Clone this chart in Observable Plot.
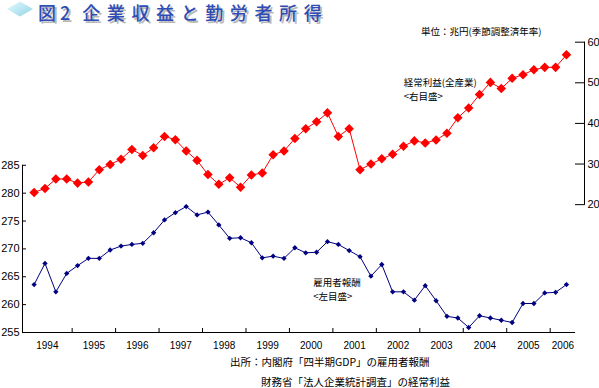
<!DOCTYPE html>
<html><head><meta charset="utf-8">
<script src="https://cdn.jsdelivr.net/npm/d3@7"></script>
<script src="https://cdn.jsdelivr.net/npm/@observablehq/plot@0.6"></script>
<style>
body{margin:0;background:#fff;}
#wrap{position:relative;width:599px;height:388px;overflow:hidden;font-family:"Noto Sans CJK JP",sans-serif;color:#000;}
#chart svg{display:block;}
#title{position:absolute;left:0;top:0;height:26px;width:440px;}
#title svg{position:absolute;left:0;top:0;}
#ttext{position:absolute;left:38px;top:1px;font-size:18px;line-height:22px;color:#2f4cb6;text-shadow:2px 2px 0 #b8b8b8;white-space:nowrap;font-weight:500;}
#ttext .a{letter-spacing:4px;}
#ttext .b{margin-left:8px;letter-spacing:6.6px;}
#unit{position:absolute;left:421px;top:25px;font-size:9.5px;line-height:13px;white-space:nowrap;}
#caption{position:absolute;left:230px;top:352px;font-size:10.5px;line-height:20px;white-space:nowrap;}
#caption .l2{padding-left:31px;}
</style></head><body>
<div id="wrap">
  <div id="chart"></div>
  <div id="title">
    <svg width="36" height="20"><defs><linearGradient id="g" x1="0" y1="0" x2="1" y2="1"><stop offset="0" stop-color="#e6fbff"/><stop offset="1" stop-color="#8fd3e6"/></linearGradient></defs><polygon points="7,9 20,1.5 33,9 20,16.5" fill="url(#g)"/></svg>
    <div id="ttext"><span class="a">図2</span><span class="b">企業収益と勤労者所得</span></div>
  </div>
  <div id="unit">単位：兆円(季節調整済年率)</div>
  <div id="caption">
    <div>出所：内閣府「四半期GDP」の雇用者報酬</div>
    <div class="l2">財務省「法人企業統計調査」の経常利益</div>
  </div>
</div>
<script>
const years = ["1994","1995","1996","1997","1998","1999","2000","2001","2002","2003","2004","2005","2006"];
// 雇用者報酬 (left axis, quarterly 1994Q1–2006Q2)
const compensation = [263.6,267.4,262.3,265.6,267.0,268.3,268.3,269.8,270.5,270.8,
  271.0,272.9,275.2,276.5,277.6,276.1,276.6,274.3,271.9,272.0,
  271.1,268.4,268.7,268.3,270.2,269.3,269.4,271.3,270.8,269.7,
  268.6,265.1,267.2,262.3,262.3,260.8,263.4,260.7,257.9,257.6,
  255.9,258.0,257.6,257.2,256.8,260.2,260.2,262.1,262.2,263.6];
// 経常利益(全産業) (right axis)
const profit = [23.0,24.0,26.3,26.3,25.3,25.6,28.6,29.9,31.2,33.6,
  32.1,34.0,36.8,36.0,33.2,30.9,27.4,25.0,26.6,24.3,
  27.3,27.8,32.3,33.2,36.3,38.7,40.4,42.6,36.8,38.7,
  28.6,30.0,31.3,32.4,34.4,35.7,35.2,35.9,37.6,41.4,
  43.8,47.1,50.1,48.6,51.1,52.0,53.2,53.8,53.8,56.9];
const leftTicks = [255,260,265,270,275,280,285];
const rightTicks = [20,30,40,50,60];
const labelProfit = "経常利益(全産業)\n<右目盛>";
const labelComp = "雇用者報酬\n<左目盛>";

// layout helpers
const xStart = -1.07, xEnd = 49.84, xFrameEnd = 50.66;
const toLeft = d3.scaleLinear([20, 60], [277.94, 307.09]);
const bounds = [xStart, ...d3.range(3.5, 48, 4), xEnd];
const labelPos = years.map((y, i) => (bounds[i] + bounds[i + 1]) / 2);
const yearAt = new Map(labelPos.map((p, i) => [p, years[i]]));
const tickBounds = d3.range(3.5, 48, 4);

const font = '"Liberation Sans", "Noto Sans CJK JP", sans-serif';
const jp = '"Noto Sans CJK JP", sans-serif';

const chart = Plot.plot({
  width: 599, height: 352,
  marginLeft: 22, marginRight: 15, marginTop: 30, marginBottom: 20,
  x: {domain: [xStart, xFrameEnd]},
  y: {domain: [255, 285], range: [332, 164.8]},
  style: {fontFamily: font, fontSize: "10px", background: "#fff", color: "#000", overflow: "visible"},
  marks: [
    // axis lines
    Plot.ruleY([255], {x1: xStart, x2: xEnd, stroke: "#000"}),
    Plot.ruleX([xStart], {y1: 255, y2: 285, stroke: "#000"}),
    Plot.ruleX([xFrameEnd], {y1: toLeft(20), y2: toLeft(60), stroke: "#000"}),
    // x axis
    Plot.axisX(tickBounds, {tickSize: -4, tickFormat: () => "", label: null}),
    Plot.axisX(labelPos, {tickSize: 0, tickPadding: 9, tickFormat: d => yearAt.get(d), fontSize: 10, label: null}),
    // left axis
    Plot.axisY(leftTicks, {anchor: "left", tickSize: -4, tickFormat: () => "", label: null}),
    Plot.axisY(leftTicks, {anchor: "left", tickSize: 0, tickPadding: 3, fontSize: 11, label: null}),
    // right axis
    Plot.axisY(rightTicks.map(toLeft), {anchor: "right", tickSize: -10, tickFormat: () => "", label: null}),
    Plot.axisY(rightTicks.map(toLeft), {anchor: "right", tickSize: 0, tickPadding: 3, fontSize: 11,
      tickFormat: d => String(Math.round(toLeft.invert(d))), label: null}),
    // series
    Plot.line(compensation, {x: (d, i) => i, y: d => d, stroke: "#000080", strokeWidth: 1}),
    Plot.dot(compensation, {x: (d, i) => i, y: d => d, symbol: "diamond2", r: 2.4, fill: "#000080", stroke: null}),
    Plot.line(profit, {x: (d, i) => i, y: d => toLeft(d), stroke: "#ff0000", strokeWidth: 1}),
    Plot.dot(profit, {x: (d, i) => i, y: d => toLeft(d), symbol: "diamond2", r: 4.3, fill: "#ff0000", stroke: null}),
    // annotations
    Plot.text([labelProfit], {x: 34.03, y: toLeft(48.5), text: d => d, textAnchor: "start", lineHeight: 1.46, fontSize: 9.5, fontFamily: jp}),
    Plot.text([labelComp], {x: 25.69, y: 262.94, text: d => d, textAnchor: "start", lineHeight: 1.46, fontSize: 9.5, fontFamily: jp})
  ]
});
document.getElementById("chart").appendChild(chart);
</script>
</body></html>
